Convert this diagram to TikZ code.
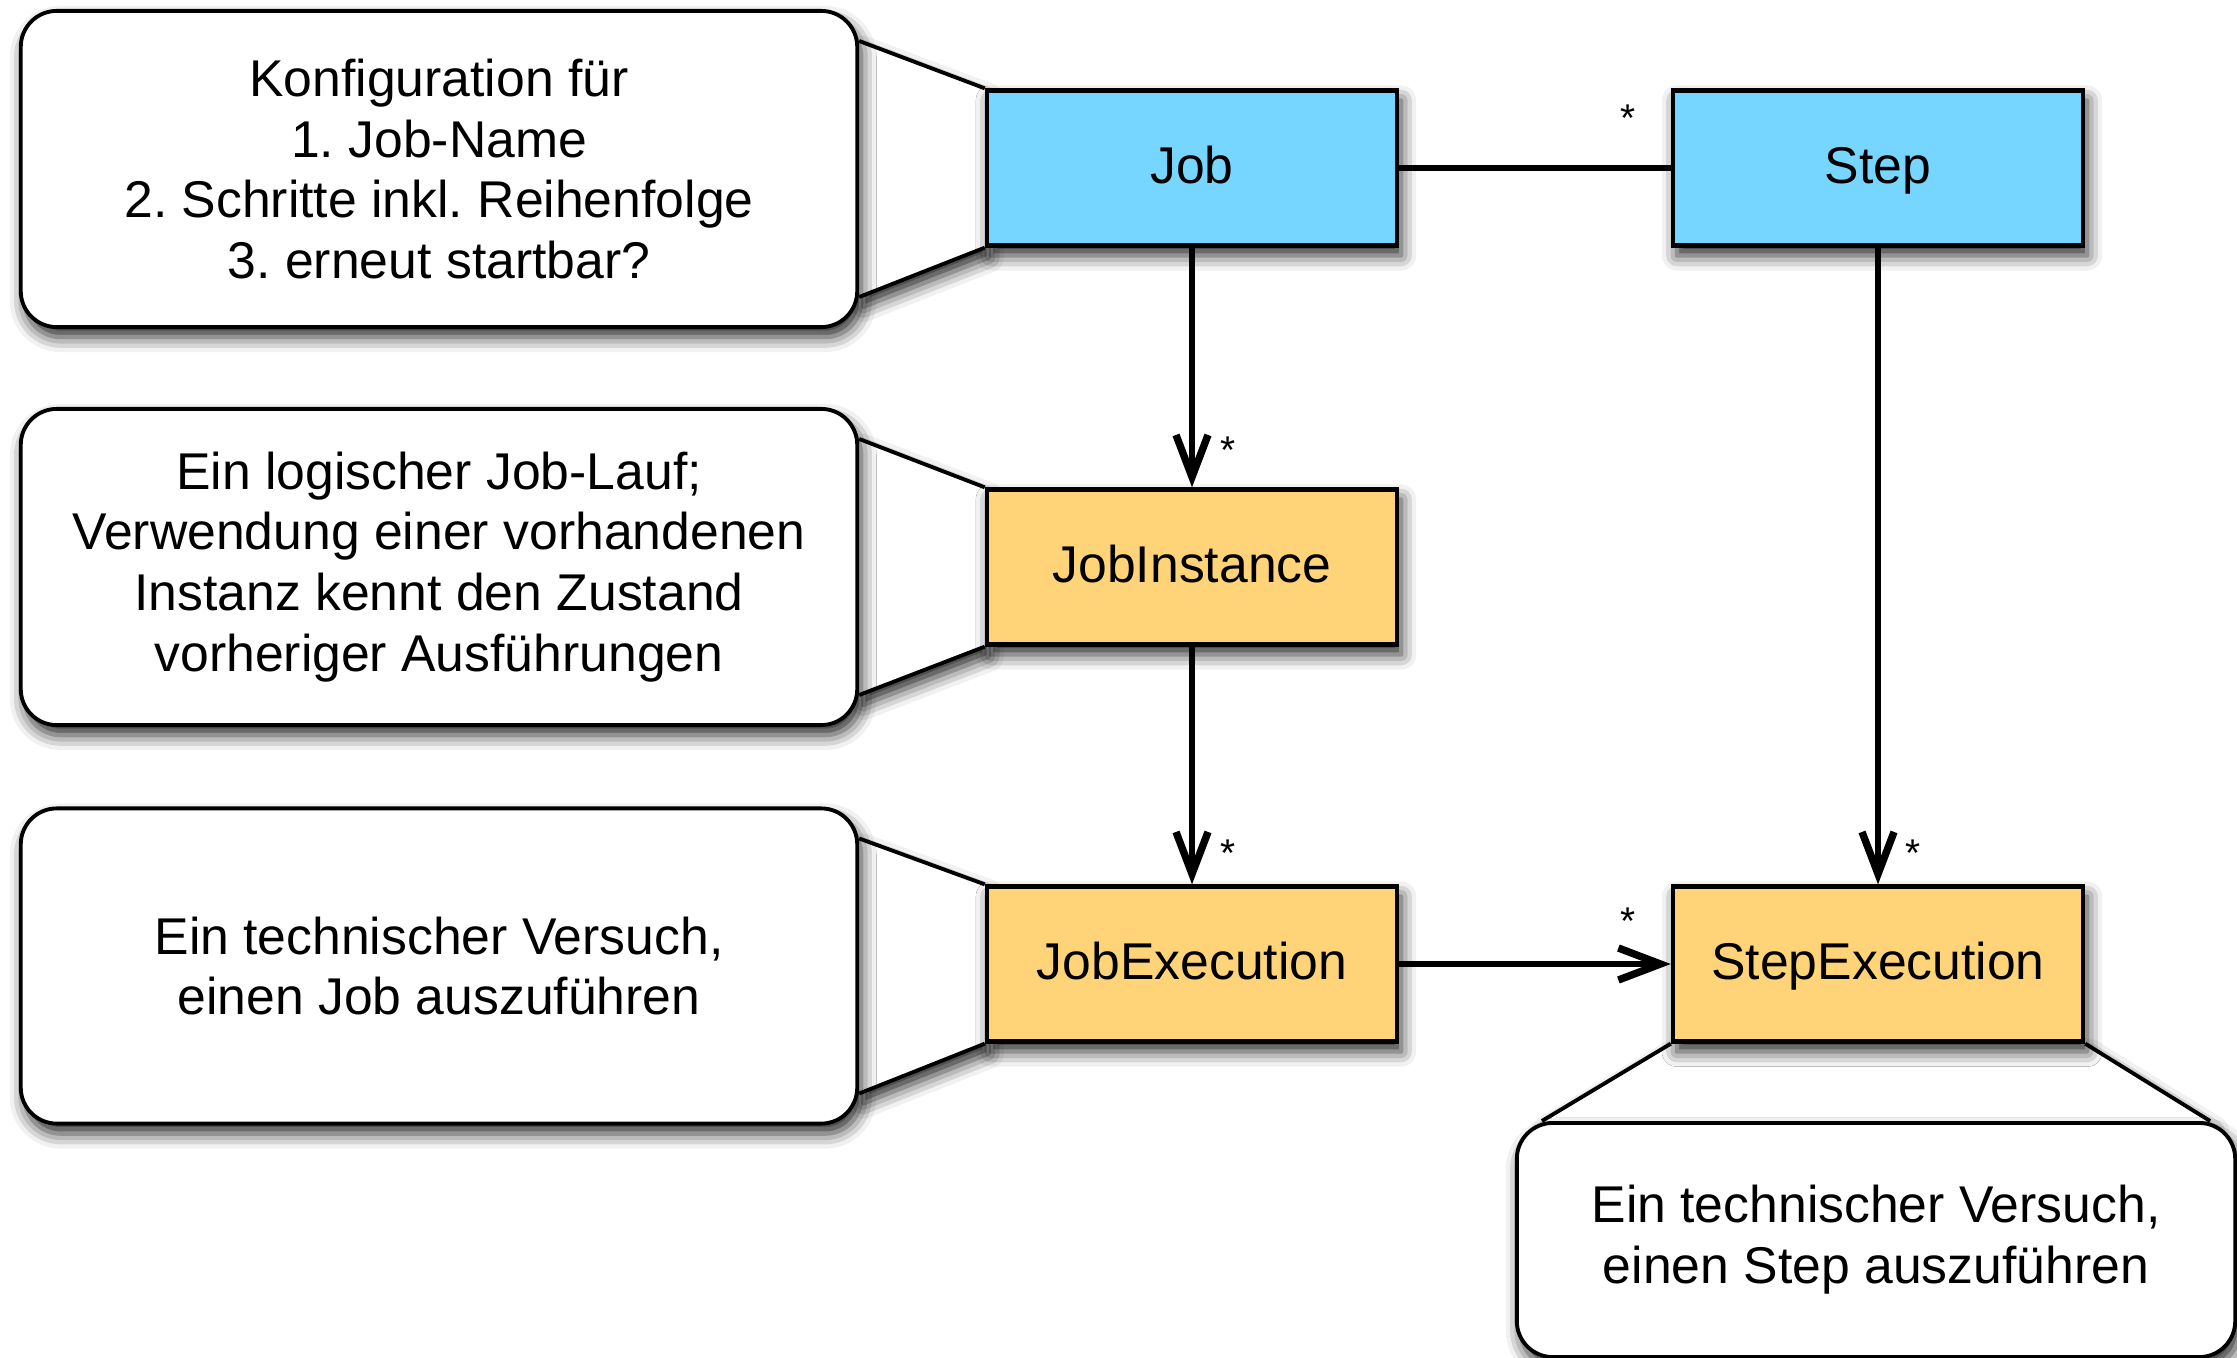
\documentclass[tikz,border=0pt]{standalone}
\usepackage{fontspec}
\setmainfont{Liberation Sans}
\usetikzlibrary{arrows.meta,shadows.blur}
\pgfdeclarelayer{tails}
\pgfsetlayers{tails,main}
\definecolor{sky}{HTML}{76D6FF}
\definecolor{cantaloupe}{HTML}{FFD479}
\newcommand\diagfont{\fontsize{14.7}{17.3}\selectfont}
\frenchspacing
\begin{document}
\begin{tikzpicture}[x=0.01cm, y=-0.01cm,
  soft/.style={blur shadow={shadow xshift=0.04cm, shadow yshift=-0.1cm,
                            shadow blur radius=0.15cm, shadow opacity=85}},
  entity/.style={draw, line width=1.2pt, minimum width=4.1cm, minimum height=1.55cm,
                 inner sep=0pt, text height=1.0em, text depth=0.14em,
                 font=\diagfont, soft},
  note/.style={draw, fill=white, line width=1.1pt, rounded corners=0.36cm,
               align=center, inner sep=0pt, font=\diagfont, soft},
  outline/.style={line width=1.1pt},
  link/.style={line width=1.7pt},
  arrow/.style={link, -{Straight Barb[length=0.42cm, width=0.32cm, line width=2.1pt]}},
  mult/.style={font=\fontsize{11}{13}\selectfont, inner sep=0pt}
]
\useasboundingbox (0,0) rectangle (2237,1358);

% explanatory notes
\node[note, minimum width=8.36cm, minimum height=3.16cm] (cfg) at (439,169)
  {Konfiguration für\\1. Job-Name\\2. Schritte inkl. Reihenfolge\\3. erneut startbar?};
\node[note, minimum width=8.36cm, minimum height=3.16cm] (run) at (439,567)
  {Ein logischer Job-Lauf;\\Verwendung einer vorhandenen\\Instanz kennt den Zustand\\vorheriger Ausführungen};
\node[note, minimum width=8.36cm, minimum height=3.15cm] (jtry) at (439,966)
  {Ein technischer Versuch,\\einen Job auszuführen};
\node[note, minimum width=7.18cm, minimum height=2.34cm] (stry) at (1876,1240)
  {Ein technischer Versuch,\\einen Step auszuführen};

% domain objects
\node[entity, fill=sky] (job) at (1192,168) {Job};
\node[entity, fill=sky] (step) at (1878,168) {Step};
\node[entity, fill=cantaloupe] (jinst) at (1192,567) {JobInstance};
\node[entity, fill=cantaloupe] (jexec) at (1192,964) {JobExecution};
\node[entity, fill=cantaloupe] (sexec) at (1878,964) {StepExecution};

% note tails pointing at their objects
\begin{pgfonlayer}{tails}
  \foreach \n/\o in {cfg/job, run/jinst, jtry/jexec} {
    \path[fill=white, soft] ([yshift=-0.32cm]\n.north east) -- (\o.north west)
      -- (\o.south west) -- ([yshift=0.32cm]\n.south east) -- cycle;
    \draw[outline] ([yshift=-0.32cm]\n.north east) -- (\o.north west)
      (\o.south west) -- ([yshift=0.32cm]\n.south east);
  }
  \path[fill=white, soft] ([xshift=0.27cm]stry.north west) -- (sexec.south west)
    -- (sexec.south east) -- ([xshift=-0.27cm]stry.north east) -- cycle;
  \draw[outline] ([xshift=0.27cm]stry.north west) -- (sexec.south west)
    (sexec.south east) -- ([xshift=-0.27cm]stry.north east);
\end{pgfonlayer}

% associations
\draw[link] (job) -- (step);
\draw[arrow] (job) -- (jinst);
\draw[arrow] (jinst) -- (jexec);
\draw[arrow] (step) -- (sexec);
\draw[arrow] (jexec) -- (sexec);

% multiplicities
\node[mult] (m1) at (1628,118) {*};
\node[mult] (m2) at (1228,450) {*};
\node[mult] (m3) at (1228,853) {*};
\node[mult] (m4) at (1913,853) {*};
\node[mult] (m5) at (1628,921) {*};
\end{tikzpicture}
\end{document}
